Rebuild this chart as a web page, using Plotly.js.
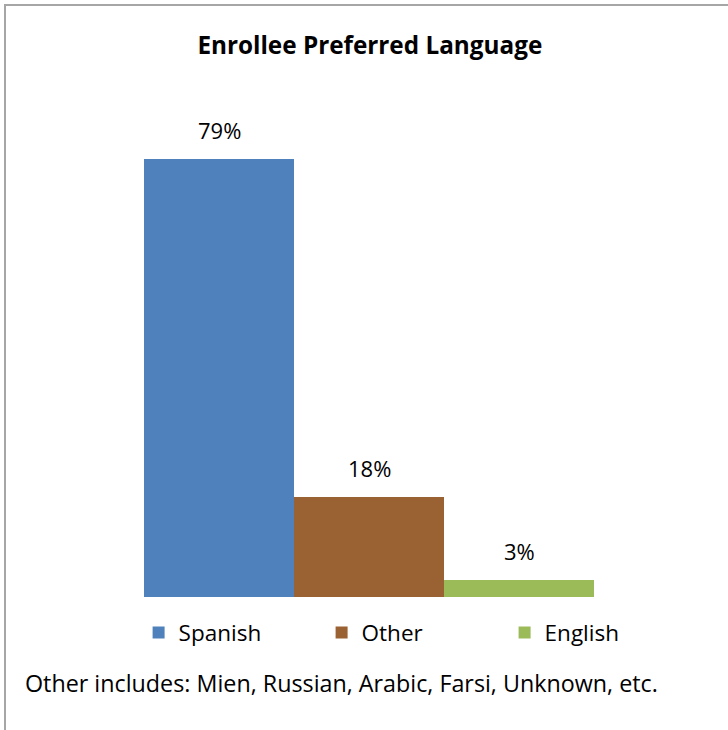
<!DOCTYPE html>
<html>
<head>
<meta charset="utf-8">
<script src="https://cdn.plot.ly/plotly-3.0.1.min.js"></script>
<style>
  html, body { margin: 0; padding: 0; background: #fff; }
  #frame { position: absolute; left: 4px; top: 4px; width: 724px; height: 726px;
           border-top: 2px solid #a6a6a6; border-left: 2px solid #a6a6a6; box-sizing: border-box; }
  #chart { position: absolute; left: 0; top: 0; width: 728px; height: 730px; }
</style>
</head>
<body>
<div id="frame"></div>
<div id="chart"></div>
<script>
const categories = ["Spanish", "Other", "English"];
const values = [0.79, 0.18, 0.03];
const colors = ["#4F81BD", "#9A6232", "#9BBB59"];
const titleText = "Enrollee Preferred Language";
const footnote = "Other includes: Mien, Russian, Arabic, Farsi, Unknown, etc.";

const FONT = "'Open Sans', 'Noto Sans', sans-serif";

const traces = categories.map((c, i) => ({
  type: "bar",
  name: c,
  x: [c],
  y: [values[i]],
  marker: { color: colors[i] },
  hoverinfo: "skip"
}));

const annotations = categories.map((c, i) => ({
  x: c, y: values[i], xref: "x", yref: "y",
  text: Math.round(values[i] * 100) + "%",
  showarrow: false, yanchor: "bottom", yshift: 12,
  font: { family: FONT, size: 22, color: "#000" }
}));
annotations.push({
  xref: "paper", yref: "paper", x: -0.05, y: -0.172,
  xanchor: "left", yanchor: "middle", showarrow: false,
  text: footnote, font: { family: FONT, size: 23.3, color: "#000" }
});

const layout = {
  width: 728, height: 730,
  paper_bgcolor: "rgba(0,0,0,0)", plot_bgcolor: "rgba(0,0,0,0)",
  margin: { l: 54, r: 44, t: 97.5, b: 132.5, pad: 0 },
  title: { text: "<b>" + titleText + "</b>", x: 0.508, xanchor: "center",
           y: 0.938, yanchor: "middle", font: { family: FONT, size: 24.3, color: "#000" } },
  barmode: "overlay",
  bargap: 0,
  xaxis: { type: "category", categoryorder: "array", categoryarray: categories,
           range: [-1.1, 3.1], showticklabels: false, showgrid: false, zeroline: false,
           showline: false, ticks: "" },
  yaxis: { range: [0, 0.9], visible: false, showgrid: false, zeroline: false },
  showlegend: true,
  legend: { orientation: "h", x: 0.57, xanchor: "center", y: -0.072, yanchor: "middle",
            entrywidth: 138, entrywidthmode: "pixels", traceorder: "normal",
            font: { family: FONT, size: 22.5, color: "#000" } },
  annotations: annotations
};

Plotly.newPlot("chart", traces, layout, { staticPlot: true, displayModeBar: false });
</script>
</body>
</html>
